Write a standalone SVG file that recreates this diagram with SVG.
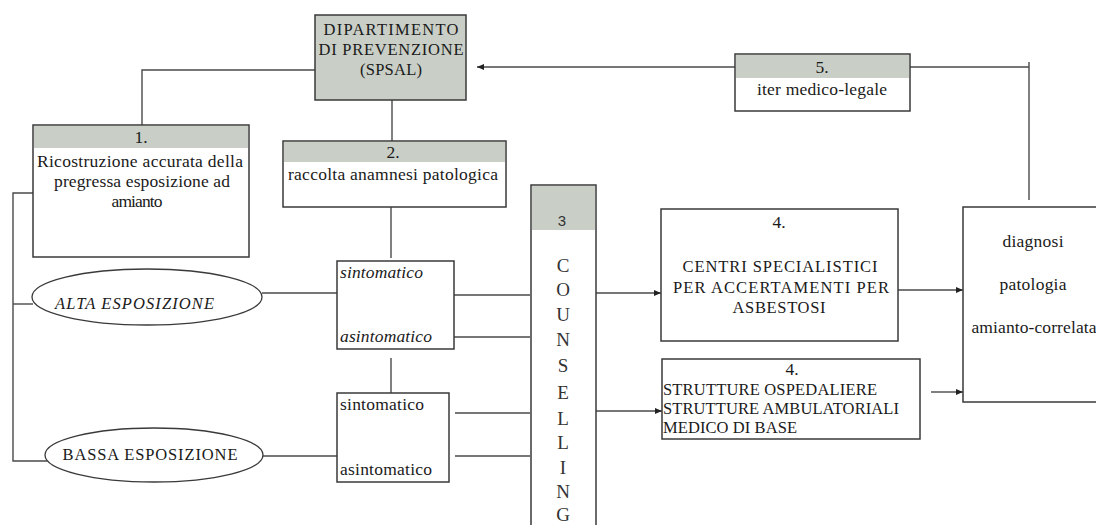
<svg xmlns="http://www.w3.org/2000/svg" width="1096" height="525" viewBox="0 0 1096 525">
<style>
  .box{fill:#fff;stroke:#3a3a3a;stroke-width:1.5}
  .hdr{fill:#c9cec6;stroke:none}
  .gbox{fill:#c9cec6;stroke:#3a3a3a;stroke-width:1.5}
  .ell{fill:#fff;stroke:#3a3a3a;stroke-width:1.3}
  .t{font-family:"Liberation Serif","Times New Roman",serif;font-size:17.5px;fill:#1a1a1a}
  .u{font-size:16.5px}
  .c{text-anchor:middle}
  .i{font-style:italic}
  .s{font-family:"Liberation Sans",Arial,sans-serif;font-size:15px;fill:#333}
  .big{font-size:19px;fill:#333}
  .ln{fill:none;stroke:#4a4a4a;stroke-width:1.4}
  .ar{fill:none;stroke:#4a4a4a;stroke-width:1.4;marker-end:url(#ah)}
</style>
<defs>
  <marker id="ah" markerUnits="userSpaceOnUse" markerWidth="8" markerHeight="8" refX="7" refY="4" orient="auto">
    <path d="M0,1 L7,4 L0,7 Z" fill="#222"/>
  </marker>
</defs>
<rect width="1096" height="525" fill="#fff"/>

<g id="connectors">
  <polyline class="ln" points="315,70 142,70 142,125"/>
  <line class="ln" x1="392" y1="100" x2="392" y2="141"/>
  <polyline class="ln" points="33,193 13,193 13,461 47,461"/>
  <line class="ln" x1="13" y1="304" x2="33" y2="304"/>
  <line class="ln" x1="262" y1="293" x2="337" y2="293"/>
  <line class="ln" x1="263" y1="456" x2="337" y2="456"/>
  <line class="ln" x1="391" y1="207" x2="391" y2="258"/>
  <line class="ln" x1="391" y1="358" x2="391" y2="393"/>
  <line class="ln" x1="454" y1="295" x2="530" y2="295"/>
  <line class="ln" x1="454" y1="337" x2="530" y2="337"/>
  <line class="ln" x1="455" y1="413" x2="530" y2="413"/>
  <line class="ln" x1="455" y1="456" x2="530" y2="456"/>
  <line class="ar" x1="596" y1="293" x2="661" y2="293"/>
  <line class="ar" x1="596" y1="411" x2="662" y2="411"/>
  <line class="ar" x1="898" y1="290" x2="963" y2="290"/>
  <line class="ar" x1="931" y1="392" x2="963" y2="392"/>
  <polyline class="ln" points="1029,200 1029,62"/>
  <line class="ln" x1="1029" y1="67" x2="910" y2="67"/>
  <line class="ar" x1="735" y1="67" x2="477" y2="67"/>
</g>

<g id="dipartimento">
  <rect class="gbox" x="315" y="15" width="151" height="85"/>
  <text class="t u c" x="391" y="35" textLength="135">DIPARTIMENTO</text>
  <text class="t u c" x="391" y="55" textLength="145">DI PREVENZIONE</text>
  <text class="t u c" x="391" y="75" textLength="62">(SPSAL)</text>
</g>

<g id="box1">
  <rect class="box" x="33" y="125" width="216" height="132"/>
  <rect class="hdr" x="34" y="126" width="214" height="22"/>
  <text class="t c" x="141" y="143">1.</text>
  <text class="t c" x="140" y="167" textLength="206">Ricostruzione accurata della</text>
  <text class="t c" x="142" y="187" textLength="176">pregressa esposizione ad</text>
  <text class="t c" x="137" y="207" textLength="51">amianto</text>
</g>

<g id="box2">
  <rect class="box" x="283" y="141" width="223" height="66"/>
  <rect class="hdr" x="284" y="142" width="221" height="20"/>
  <text class="t c" x="393" y="158">2.</text>
  <text class="t c" x="393" y="180" textLength="210">raccolta anamnesi patologica</text>
</g>

<g id="alta">
  <ellipse class="ell" cx="147" cy="297" rx="115" ry="28"/>
  <text class="t u i" x="55" y="309" textLength="159">ALTA ESPOSIZIONE</text>
</g>

<g id="bassa">
  <ellipse class="ell" cx="154" cy="455" rx="109" ry="27"/>
  <text class="t u c" x="150" y="460" textLength="175">BASSA ESPOSIZIONE</text>
</g>

<g id="sint-alta">
  <rect class="box" x="337" y="261" width="117" height="88"/>
  <text class="t i" x="340" y="278" textLength="83">sintomatico</text>
  <text class="t i" x="340" y="342" textLength="92">asintomatico</text>
</g>

<g id="sint-bassa">
  <rect class="box" x="337" y="393" width="112" height="89"/>
  <text class="t" x="340" y="410" textLength="84">sintomatico</text>
  <text class="t" x="340" y="475" textLength="92">asintomatico</text>
</g>

<g id="counselling">
  <rect class="box" x="531" y="185" width="65" height="360"/>
  <rect class="hdr" x="532" y="186" width="63" height="44"/>
  <text class="s c" x="562" y="226">3</text>
  <g class="t c big">
    <text x="563" y="272">C</text>
    <text x="563" y="296">O</text>
    <text x="563" y="321">U</text>
    <text x="563" y="346">N</text>
    <text x="563" y="372">S</text>
    <text x="563" y="399">E</text>
    <text x="563" y="425">L</text>
    <text x="563" y="449">L</text>
    <text x="563" y="474">I</text>
    <text x="563" y="498">N</text>
    <text x="563" y="521">G</text>
  </g>
</g>

<g id="box4a">
  <rect class="box" x="661" y="209" width="237" height="132"/>
  <text class="t c" x="779" y="228">4.</text>
  <text class="t u c" x="780" y="272" textLength="195">CENTRI SPECIALISTICI</text>
  <text class="t u c" x="781" y="293" textLength="216">PER ACCERTAMENTI PER</text>
  <text class="t u c" x="779" y="313" textLength="93">ASBESTOSI</text>
</g>

<g id="box4b">
  <rect class="box" x="662" y="359" width="258" height="80"/>
  <text class="t c" x="792" y="375">4.</text>
  <text class="t u" x="663" y="395" textLength="214">STRUTTURE OSPEDALIERE</text>
  <text class="t u" x="663" y="414" textLength="236">STRUTTURE AMBULATORIALI</text>
  <text class="t u" x="663" y="433" textLength="134">MEDICO DI BASE</text>
</g>

<g id="diagnosi">
  <rect class="box" x="963" y="207" width="140" height="195"/>
  <text class="t c" x="1033" y="247" textLength="61">diagnosi</text>
  <text class="t c" x="1033" y="290" textLength="67">patologia</text>
  <text class="t c" x="1034" y="333" textLength="125">amianto-correlata</text>
</g>

<g id="box5">
  <rect class="box" x="735" y="54" width="175" height="57"/>
  <rect class="hdr" x="736" y="55" width="173" height="23"/>
  <text class="t c" x="822" y="73">5.</text>
  <text class="t c" x="822" y="95" textLength="130">iter medico-legale</text>
</g>
</svg>
